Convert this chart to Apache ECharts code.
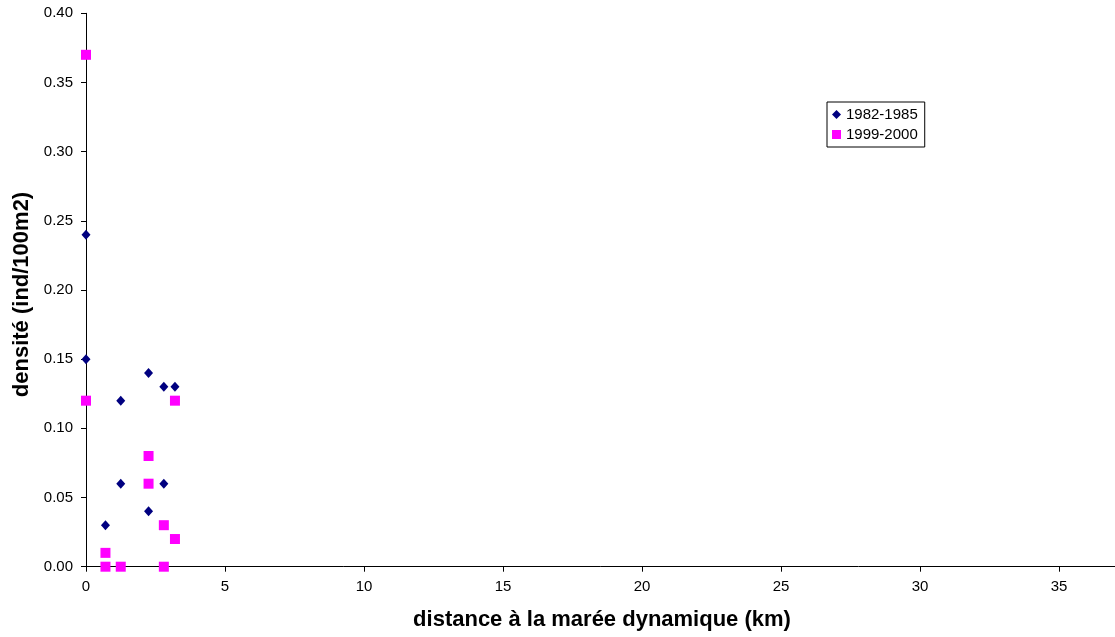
<!DOCTYPE html>
<html><head><meta charset="utf-8">
<script src="https://cdn.jsdelivr.net/npm/echarts@6/dist/echarts.min.js"></script>
<style>html,body{margin:0;padding:0;background:#fff}#c{width:1115px;height:637px}</style>
</head><body><div id="c"></div>
<script>
const seriesNames = ['1982-1985', '1999-2000'];
const data1982 = [[0,0.24],[0,0.15],[0.7,0.03],[1.25,0.12],[1.25,0.06],[2.25,0.14],[2.25,0.04],[2.8,0.13],[2.8,0.06],[3.2,0.13]];
const data1999 = [[0,0.37],[0,0.12],[0.7,0.01],[0.7,0.00],[1.25,0.00],[2.25,0.08],[2.25,0.06],[2.8,0.03],[2.8,0.00],[3.2,0.12],[3.2,0.02]];
const xTitle = 'distance à la marée dynamique (km)';
const yTitle = 'densité (ind/100m2)';

const chart = echarts.init(document.getElementById('c'));
const font = 'Liberation Sans, Arial, sans-serif';
chart.setOption({
  animation: false,
  textStyle: {fontFamily: font},
  grid: {left: 86, width: 1112, top: 13.3, height: 553.4, containLabel: false, outerBoundsMode: 'none'},
  xAxis: {
    type: 'value', min: 0, max: 40, interval: 5,
    axisLine: {lineStyle: {color: '#000', width: 1}},
    axisTick: {show: true, inside: false, length: 5, lineStyle: {color: '#000'}},
    axisLabel: {color: '#000', fontSize: 15, margin: 13, fontFamily: font},
    splitLine: {show: false}
  },
  yAxis: {
    type: 'value', min: 0, max: 0.4, interval: 0.05,
    name: yTitle, nameLocation: 'middle', nameGap: 50, nameRotate: 90,
    nameTextStyle: {fontSize: 22, fontWeight: 'bold', color: '#000', fontFamily: font, padding: [0, 9, 0, 0]},
    axisLine: {show: true, lineStyle: {color: '#000', width: 1}},
    axisTick: {show: true, inside: false, length: 5, lineStyle: {color: '#000'}},
    axisLabel: {color: '#000', fontSize: 15, margin: 13, fontFamily: font, formatter: v => v.toFixed(2)},
    splitLine: {show: false}
  },
  title: {
    text: xTitle, left: 602, top: 609, textAlign: 'center', padding: 0,
    textStyle: {fontSize: 22, fontWeight: 'bold', color: '#000', fontFamily: font}
  },
  legend: {
    left: 827, top: 102, orient: 'vertical',
    backgroundColor: '#fff', borderColor: '#000', borderWidth: 1,
    padding: [5, 7, 5, 5], itemGap: 5, itemWidth: 9, itemHeight: 9,
    textStyle: {fontSize: 15, color: '#000', fontFamily: font},
    data: [
      {name: seriesNames[0], icon: 'diamond'},
      {name: seriesNames[1], icon: 'rect'}
    ]
  },
  series: [
    {name: seriesNames[0], type: 'scatter', symbol: 'diamond', symbolSize: [9, 10],
     itemStyle: {color: '#000080', opacity: 1}, data: data1982, z: 3},
    {name: seriesNames[1], type: 'scatter', symbol: 'rect', symbolSize: 10,
     itemStyle: {color: '#FF00FF', opacity: 1}, data: data1999, z: 2}
  ]
});
</script></body></html>
